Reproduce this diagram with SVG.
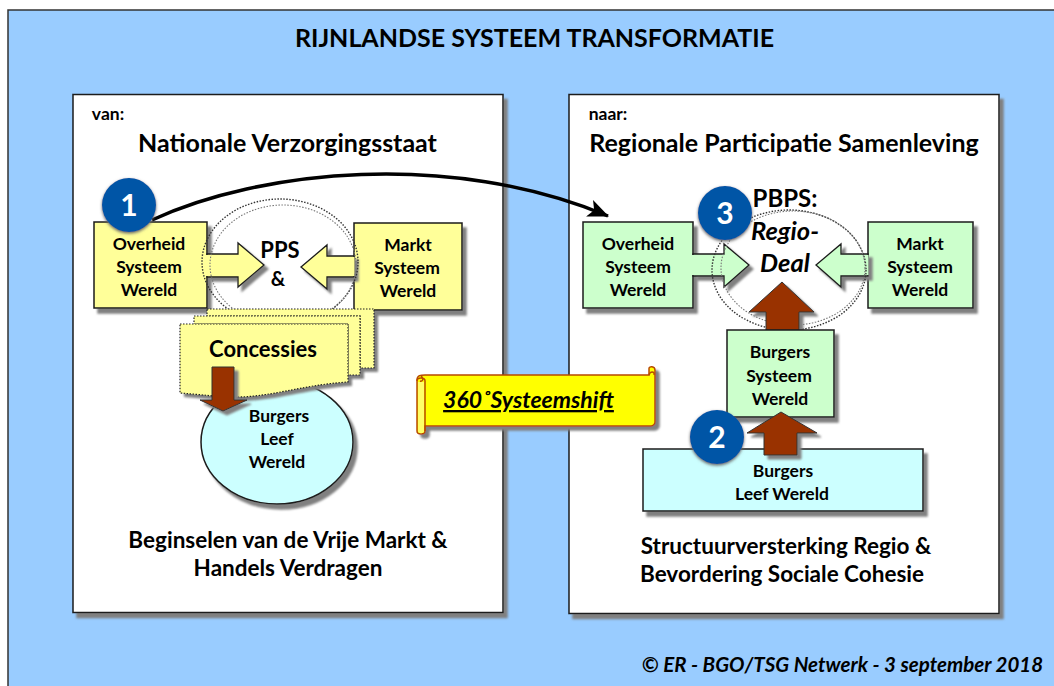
<svg xmlns="http://www.w3.org/2000/svg" width="1054" height="686" viewBox="0 0 1054 686">
<style>
text{font-family:Lato,"Liberation Sans",sans-serif;font-weight:700;fill:#000;text-anchor:middle}
.box{stroke:#1a1a1a;stroke-width:1.5;filter:url(#sh)}
.y{fill:#ffff99}.g{fill:#ccffcc}.c{fill:#ccffff}
.l{font-size:17.5px}.h{font-size:25px}.f{font-size:22.500px}
.ar{stroke:#1a1a1a;stroke-width:1.3;filter:url(#sh2)}
.br{fill:#993300;stroke:#333;stroke-width:1;filter:url(#sh2)}
.dot{fill:none;stroke:#333;stroke-width:1.4;stroke-dasharray:1.5 1.5}
.dot2{fill:none;stroke:#777;stroke-width:1.1;stroke-dasharray:1.5 1.5}
.doc{fill:#ffff99;stroke:none;filter:url(#sh2)}
.sheet{fill:#ffff99;stroke:#222;stroke-width:1.2;stroke-dasharray:1.5 1.5}
.num{fill:#0054a6;filter:url(#sh3)}
.nt{font-size:30px;fill:#fff}
</style>
<defs>
<filter id="sh" x="-10%" y="-10%" width="125%" height="125%"><feDropShadow dx="4" dy="5" stdDeviation="0.8" flood-color="#808080"/></filter>
<filter id="sh2" x="-15%" y="-15%" width="135%" height="135%"><feDropShadow dx="4" dy="4" stdDeviation="0.8" flood-color="#808080"/></filter>
<filter id="sh3" x="-20%" y="-20%" width="140%" height="140%"><feDropShadow dx="0" dy="1.5" stdDeviation="1.5" flood-color="#666"/></filter>
<marker id="ah" markerUnits="userSpaceOnUse" markerWidth="24" markerHeight="20" refX="20" refY="9" orient="auto"><path d="M0 0L21 9L0 18L5 9Z" fill="#000"/></marker>
</defs>
<rect id="background" x="8" y="10" width="1060" height="690" fill="#99ccff" stroke="#333" stroke-width="1.5"/>
<text x="534.500" y="47" font-size="25">RIJNLANDSE SYSTEEM TRANSFORMATIE</text>
<g id="panel-left">
<rect class="box" x="73" y="94.500" width="430" height="518" fill="#fff"/>
<text x="108" y="120" class="l">van:</text>
<text x="287.500" y="152" class="h">Nationale Verzorgingsstaat</text>
<text x="288" y="548" class="f">Beginselen van de Vrije Markt &amp;</text>
<text x="288" y="576" class="f">Handels Verdragen</text>
</g>
<g id="panel-right">
<rect class="box" x="569" y="94.500" width="430" height="519" fill="#fff"/>
<text x="608" y="120" class="l">naar:</text>
<text x="784" y="152" class="h">Regionale Participatie Samenleving</text>
<text x="786" y="554" class="f">Structuurversterking Regio &amp;</text>
<text x="782" y="582" class="f">Bevordering Sociale Cohesie</text>
</g>
<g id="left-overheid"><rect class="box y" x="94" y="222" width="113" height="86"/>
<text x="149" y="250" class="l">Overheid</text><text x="149" y="273" class="l">Systeem</text><text x="149" y="296" class="l">Wereld</text></g>
<g id="left-markt"><rect class="box y" x="354" y="223" width="108" height="87"/>
<text x="408" y="251" class="l">Markt</text><text x="407" y="274" class="l">Systeem</text><text x="408" y="297" class="l">Wereld</text></g>
<g id="left-arrows">
<path class="ar y" d="M207 254H238V243L264 265L238 287V277H207Z"/>
<path class="ar y" d="M354 256H327V245L301 267L327 289V277H354Z"/>
<path d="M207 255V276M353.500 257V276" stroke="#ffff99" stroke-width="2"/>
</g>
<g id="pps-circle"><ellipse class="dot" cx="280" cy="262" rx="78" ry="63"/><ellipse class="dot2" cx="283" cy="265" rx="73" ry="60"/></g>
<text id="pps" x="280" y="258" style="font-size:22px">PPS</text>
<text x="278" y="286" style="font-size:20px">&amp;</text>
<g id="burgers-leef-left"><ellipse class="box c" cx="277" cy="442" rx="76" ry="62"/>
<text x="279" y="422" class="l">Burgers</text><text x="277" y="445" class="l">Leef</text><text x="277" y="468" class="l">Wereld</text></g>
<g id="concessies">
<path class="doc" d="M207 309H374V368H360V375H348V382C300 385 270 398 230 397C210 396 195 394 180 393V324H194V316H207Z"/>
<path class="sheet" d="M207 309H374V368H360V316H207Z"/>
<path class="sheet" d="M194 316H360V375H348V324H194Z"/>
<path class="sheet" d="M180 324H348V382C300 385 270 398 230 397C210 396 195 394 180 393Z"/>
<text x="263" y="357" style="font-size:22px">Concessies</text>
<path class="br" d="M212 367H234V400H247L223 411L200 400H212Z"/>
</g>
<g id="right-overheid"><rect class="box g" x="583" y="222" width="110" height="86"/>
<text x="638" y="250" class="l">Overheid</text><text x="638" y="273" class="l">Systeem</text><text x="638" y="296" class="l">Wereld</text></g>
<g id="right-markt"><rect class="box g" x="868" y="222" width="105" height="86"/>
<text x="920" y="250" class="l">Markt</text><text x="920" y="273" class="l">Systeem</text><text x="920" y="296" class="l">Wereld</text></g>
<g id="right-arrows">
<path class="ar g" d="M693 254H724V244L749 265L724 287V276H693Z"/>
<path class="ar g" d="M868 254H841V244L816 265L841 287V276H868Z"/>
<path d="M693 255V275M867.500 255V275" stroke="#ccffcc" stroke-width="2"/>
</g>
<g id="pbps-circle"><ellipse class="dot" cx="789" cy="270" rx="77" ry="60"/><ellipse class="dot2" cx="793" cy="268" rx="72" ry="57"/></g>
<text x="785" y="207" style="font-size:24px">PBPS:</text>
<text x="785" y="240" style="font-size:25.500px;font-style:italic">Regio-</text>
<text x="785" y="272" style="font-size:25.500px;font-style:italic">Deal</text>
<path class="br" d="M766 330V312H749L782 282L814 312H799V330Z"/>
<g id="burgers-systeem"><rect class="box g" x="727" y="330" width="107" height="87"/>
<text x="780" y="358" class="l">Burgers</text><text x="779" y="382" class="l">Systeem</text><text x="780" y="405" class="l">Wereld</text></g>
<g id="burgers-leef-right"><rect class="box c" x="643" y="449" width="280" height="62"/>
<text x="783" y="477" class="l">Burgers</text><text x="782" y="500" class="l">Leef Wereld</text></g>
<path class="br" d="M764 455V433H747L781 412L817 433H797V455Z"/>
<g id="connectors"><path d="M152 220C260 170 450 150 608 216" fill="none" stroke="#000" stroke-width="3.500" marker-end="url(#ah)"/></g>
<g id="badge-1"><circle class="num" cx="129" cy="205" r="27"/><text class="nt" x="129" y="216">1</text></g>
<g id="badge-2"><circle class="num" cx="717" cy="437" r="27"/><text class="nt" x="717" y="448">2</text></g>
<g id="badge-3"><circle class="num" cx="725" cy="213" r="27"/><text class="nt" x="725" y="224">3</text></g>
<g id="scroll">
<path d="M425 375H649V368.500C649 366 655 366 655 370V422C655 424 653 426 651 426H425V431C425 435 417 435 417 431V380C417 375 421 375 425 375Z" fill="#ffff00" stroke="#b84a00" stroke-width="1.500" filter="url(#sh2)"/>
<path d="M418 382H424V431C424 434 418 434 418 431Z" fill="#ffff66"/>
<path d="M417 381C417 377 425 377 425 381V431M421 376C424 378 423 382 420 381M649 375C650 371 655 371 654 375" fill="none" stroke="#b84a00" stroke-width="1.500"/>
<text x="528.500" y="408" style="font-size:23px;font-style:italic;text-decoration:underline">360˚Systeemshift</text>
</g>
<text x="842.500" y="672" style="font-size:20.500px;font-style:italic">© ER - BGO/TSG Netwerk - 3 september 2018</text>
</svg>
